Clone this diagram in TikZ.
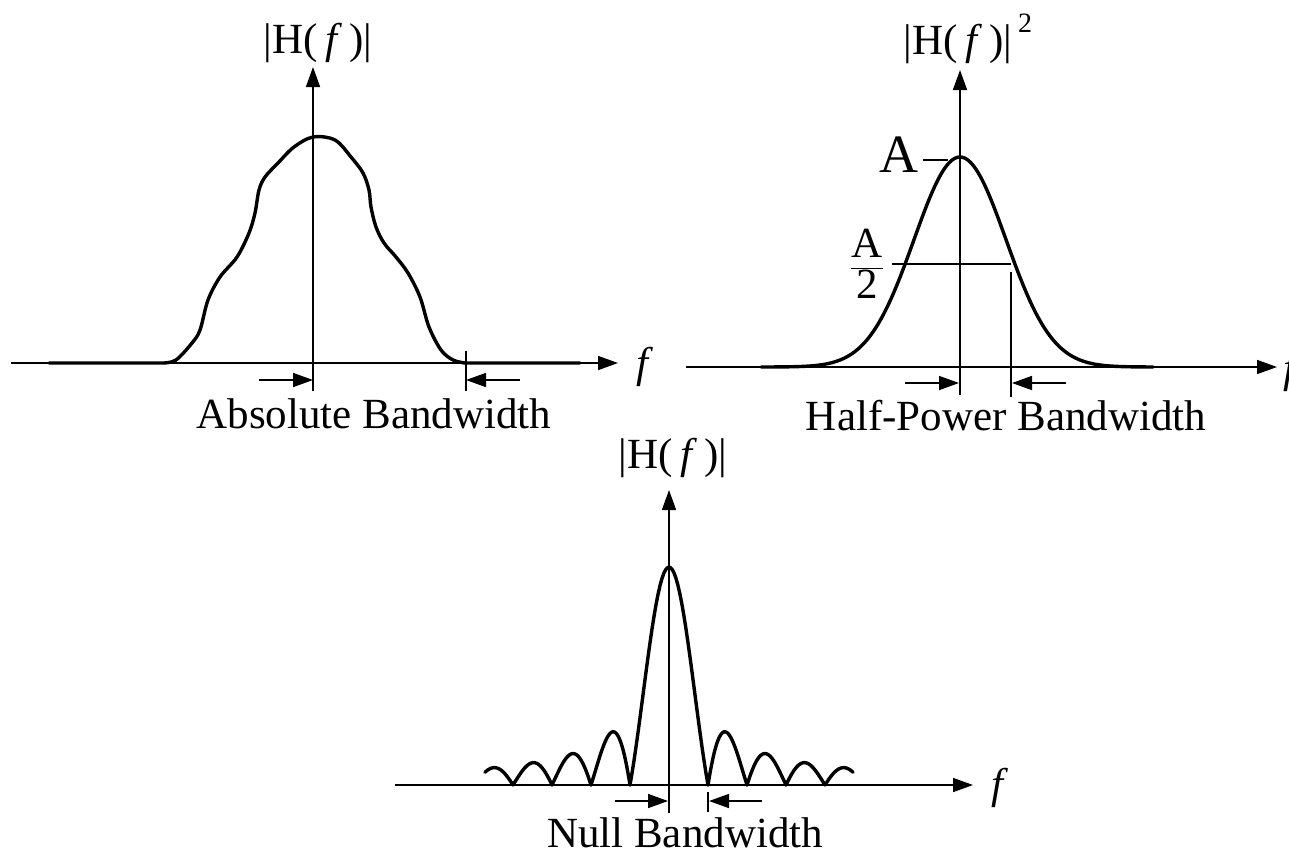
\documentclass[tikz,border=0pt]{standalone}
\usepackage{fontspec}
\setmainfont{Liberation Serif}
\usetikzlibrary{arrows.meta, positioning}

\begin{document}
\begin{tikzpicture}[
    x=1pt, y=-1pt,
    font=\fontsize{43}{50}\selectfont,
    axis/.style={line width=1.6pt, -{Triangle[length=20pt, width=14pt]}},
    guide/.style={line width=1.6pt},
    curve/.style={line width=3.4pt, line join=round, line cap=round},
    lbl/.style={inner sep=0pt}
  ]
    \useasboundingbox (0,0) rectangle (1289,855);

    % absolute bandwidth
    \coordinate (oA) at (313,363);
    \coordinate (yA) at (313,67);
    \coordinate (xA) at (618,363);
    \coordinate (edgeA) at (466,363);
    \draw[axis] (11,363) -- (xA);
    \draw[axis] (313,391) -- (yA);
    \draw[guide] (466,351) -- (466,391);
    \draw[axis] (259,380) -- (313,380);
    \draw[axis] (520,380) -- (466,380);
    \draw[curve] (49,363) -- plot[smooth, tension=0.55] coordinates {
      (163,363) (176,360) (192,343) (200,330) (208,300) (220,277) (237,257)
      (249,233) (255,213) (259,190) (265,177) (278,163) (294,147) (313,137)
      (335,140) (351,157) (363,173) (369,190) (371,207) (376,227) (384,243)
      (396,257) (408,273) (420,297) (429,327) (441,350) (453,360) (465,363)}
      -- (580,363);
    \node[lbl] (hA) at (318,43) {|H(\,\textit{f}\,)|};
    \node[lbl] (fA) at (645,367) {\textit{f}};
    \node[lbl, anchor=base] (bwA) at (374,428) {Absolute Bandwidth};

    % half-power bandwidth
    \coordinate (oB) at (960,367);
    \coordinate (yB) at (960,70);
    \coordinate (xB) at (1277,367);
    \draw[axis] (686,367) -- (xB);
    \draw[axis] (960,395) -- (yB);
    \draw[guide] (1011,272) -- (1011,397);
    \draw[guide] (892,264) -- (1011,264);
    \draw[guide] (923,160) -- (948,160);
    \draw[axis] (905,383) -- (959,383);
    \draw[axis] (1066,383) -- (1012,383);
    \draw[curve] (761,367) -- plot[domain=-4.2:4.2, samples=120, smooth]
      ({960+46*\x}, {367-210*exp(-\x*\x/2)}) -- (1142,367);
    \node[lbl] (hB) at (958,44) {|H(\,\textit{f}\,)|};
    \node[lbl, font=\fontsize{28}{32}\selectfont] (sqB) at (1025,23) {2};
    \node[lbl, font=\fontsize{54}{60}\selectfont] (peakB) at (899,155) {A};
    \node[lbl] (halfB) at (867,264) {$\displaystyle\frac{\mbox{A}}{\mbox{2}}$};
    \node[lbl] (fB) at (1292,372) {\textit{f}};
    \node[lbl, anchor=base] (bwB) at (1006,430) {Half-Power Bandwidth};

    % null bandwidth
    \coordinate (oC) at (669,785);
    \coordinate (yC) at (669,490);
    \coordinate (xC) at (973,785);
    \draw[axis] (395,785) -- (xC);
    \draw[axis] (669,813) -- (yC);
    \draw[guide] (708,792) -- (708,812);
    \draw[axis] (615,801) -- (668,801);
    \draw[axis] (762,801) -- (709,801);
    \draw[curve] plot[domain=-1:1, samples=40]
      ({669+39*\x}, {785-218*abs(sin(180*\x)/(pi*\x))});
    \foreach \a/\b in {-4.72/-4, -4/-3, -3/-2, -2/-1, 1/2, 2/3, 3/4, 4/4.72}
      \draw[curve] plot[domain=\a:\b, samples=40]
        ({669+39*\x}, {785-245*abs(sin(180*\x)/(pi*\x))});
    \node[lbl] (hC) at (673,458) {|H(\,\textit{f}\,)|};
    \node[lbl] (fC) at (1000,788) {\textit{f}};
    \node[lbl, anchor=base] (bwC) at (685,847) {Null Bandwidth};
  \end{tikzpicture}
\end{document}
